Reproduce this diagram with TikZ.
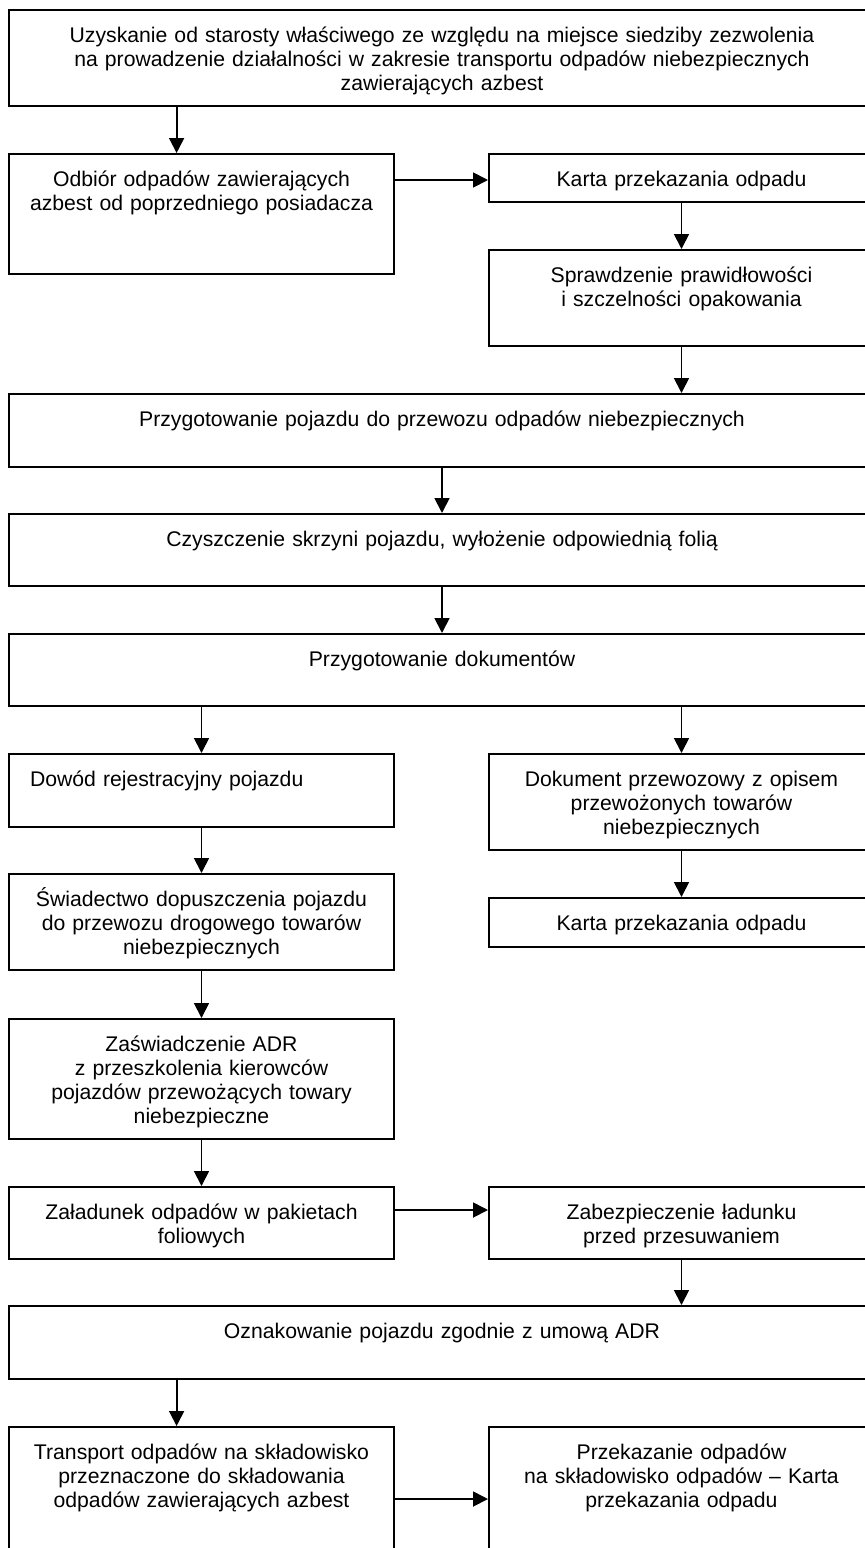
\documentclass[tikz,border=0pt]{standalone}
\usepackage{fontspec}
\setmainfont{Liberation Sans}
\usetikzlibrary{arrows.meta}

\tikzset{%
  % Specifications for style of nodes:
         stage/.style = {rectangle, draw = black, line width=1pt, anchor=north west, align=center,
                         inner xsep=4pt, inner ysep=0pt, text height=16pt,
                         font=\fontsize{10.6pt}{12pt}\selectfont},
          wide/.style = {text width=425pt},
          half/.style = {text width=184.5pt},
  % Specifications for style of arrows:
          flow/.style = {-{Triangle[length=7.5pt, width=7.5pt]}, line width=0.9pt},
}

\begin{document}
\begin{tikzpicture}[x=0.5pt, y=-0.5pt]
    \path[use as bounding box, fill=white] (0,0) rectangle (865,1548);
    \clip (0,0) rectangle (865,1548);

    % Draw nodes
    \node (permit)    [stage, wide, text depth=32pt]   at (8,9)     {Uzyskanie od starosty właściwego ze względu na miejsce siedziby zezwolenia\\ na prowadzenie działalności w zakresie transportu odpadów niebezpiecznych\\ zawierających azbest};
    \node (pickup)    [stage, half, text depth=44pt]   at (8,153)   {Odbiór odpadów zawierających\\ azbest od poprzedniego posiadacza};
    \node (card1)     [stage, half, text depth=8pt]    at (488,153) {Karta przekazania odpadu};
    \node (check)     [stage, half, text depth=32pt]   at (488,249) {Sprawdzenie prawidłowości\\ i szczelności opakowania};
    \node (prepveh)   [stage, wide, text depth=20.5pt] at (8,393)   {Przygotowanie pojazdu do przewozu odpadów niebezpiecznych};
    \node (cleaning)  [stage, wide, text depth=20pt]   at (8,513)   {Czyszczenie skrzyni pojazdu, wyłożenie odpowiednią folią};
    \node (prepdocs)  [stage, wide, text depth=20pt]   at (8,633)   {Przygotowanie dokumentów};
    \node (regdoc)    [stage, align=left, inner xsep=10.5pt, text width=171.5pt, text depth=20.5pt] at (8,753) {Dowód rejestracyjny pojazdu};
    \node (transdoc)  [stage, half, text depth=32pt]   at (488,753) {Dokument przewozowy z opisem\\ przewożonych towarów\\ niebezpiecznych};
    \node (card2)     [stage, half, text depth=8.5pt]  at (488,897) {Karta przekazania odpadu};
    \node (certveh)   [stage, half, text depth=32pt]   at (8,873)   {Świadectwo dopuszczenia pojazdu\\ do przewozu drogowego towarów\\ niebezpiecznych};
    \node (adrcert)   [stage, half, text depth=44pt]   at (8,1018)  {Zaświadczenie ADR\\ z przeszkolenia kierowców\\ pojazdów przewożących towary\\ niebezpieczne};
    \node (loading)   [stage, half, text depth=20pt]   at (8,1186)  {Załadunek odpadów w pakietach\\ foliowych};
    \node (securing)  [stage, half, text depth=20pt]   at (488,1186) {Zabezpieczenie ładunku\\ przed przesuwaniem};
    \node (marking)   [stage, wide, text depth=20.5pt] at (8,1305)  {Oznakowanie pojazdu zgodnie z umową ADR};
    \node (transport) [stage, half, text depth=47pt]   at (8,1426)  {Transport odpadów na składowisko\\ przeznaczone do składowania\\ odpadów zawierających azbest};
    \node (handover)  [stage, half, text depth=47pt]   at (488,1426) {Przekazanie odpadów\\ na składowisko odpadów – Karta\\ przekazania odpadu};

    % Draw arrows
    \draw[flow] ([xshift=84.3pt]permit.south west) -- ([xshift=84.3pt]pickup.north west);
    \draw[flow] ([yshift=-13.5pt]pickup.north east) -- ([yshift=-13.5pt]card1.north west);
    \draw[flow] (card1.south) -- (check.north);
    \draw[flow] (check.south) -- (check.south |- prepveh.north);
    \draw[flow] (prepveh) -- (cleaning);
    \draw[flow] (cleaning) -- (prepdocs);
    \draw[flow] (prepdocs.south -| regdoc.north) -- (regdoc.north);
    \draw[flow] (prepdocs.south -| transdoc.north) -- (transdoc.north);
    \draw[flow] (transdoc) -- (card2);
    \draw[flow] (regdoc) -- (certveh);
    \draw[flow] (certveh) -- (adrcert);
    \draw[flow] (adrcert) -- (loading);
    \draw[flow] ([yshift=-12pt]loading.north east) -- ([yshift=-12pt]securing.north west);
    \draw[flow] (securing.south) -- (securing.south |- marking.north);
    \draw[flow] ([xshift=84.3pt]marking.south west) -- ([xshift=84.3pt]transport.north west);
    \draw[flow] ([yshift=-36.5pt]transport.north east) -- ([yshift=-36.5pt]handover.north west);
\end{tikzpicture}
\end{document}
